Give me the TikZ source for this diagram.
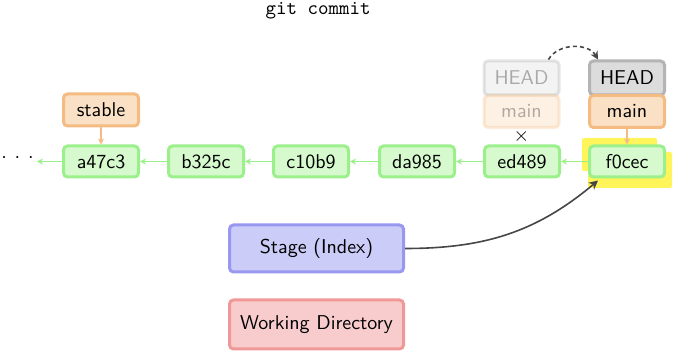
\documentclass[tikz,border=0pt]{standalone}
\usetikzlibrary{arrows.meta}
\definecolor{cgfill}{RGB}{214,250,206}
\definecolor{cgline}{RGB}{155,240,140}
\definecolor{obfill}{RGB}{250,224,196}
\definecolor{obline}{RGB}{244,188,130}
\definecolor{hdfill}{RGB}{220,220,220}
\definecolor{hdline}{RGB}{180,180,180}
\definecolor{stfill}{RGB}{204,204,248}
\definecolor{stline}{RGB}{152,152,240}
\definecolor{wdfill}{RGB}{248,204,204}
\definecolor{wdline}{RGB}{240,152,152}
\definecolor{hilite}{RGB}{255,245,90}
\definecolor{darkarr}{RGB}{70,70,70}
\begin{document}
\begin{tikzpicture}[x=0.5pt,y=-0.5pt,
  every node/.style={font=\sffamily\fontsize{10}{12}\selectfont},
  box/.style={rectangle, rounded corners=2pt, line width=1.5pt, inner sep=0pt},
  commit/.style={box, draw=cgline, fill=cgfill, minimum width=37.5pt, minimum height=15.5pt},
  branch/.style={box, draw=obline, fill=obfill, minimum width=37.5pt, minimum height=16pt},
  headbox/.style={box, draw=hdline, fill=hdfill, minimum width=37.5pt, minimum height=17pt},
  ghost/.style={draw opacity=0.35, fill opacity=0.35, text opacity=0.3},
  area/.style={box, minimum width=87pt, minimum height=23.5pt},
  garrow/.style={draw=cgline, line width=0.8pt, -{Stealth[length=3pt,width=3pt]}},
  oarrow/.style={draw=obline, line width=0.8pt, -{Stealth[length=3pt,width=3pt]}}
]
\useasboundingbox (0,0) rectangle (674,351);
% highlight
\fill[hilite, rounded corners=1pt] (582,138) rectangle (657,171);
\fill[hilite, rounded corners=1pt] (588,152) rectangle (672,188);

\node[font=\ttfamily\fontsize{10}{12}\selectfont] (title) at (318,11) {git commit};

\node[commit] (a47c3) at (101,161.5) {a47c3};
\node[commit] (b325c) at (206,161.5) {b325c};
\node[commit] (c10b9) at (311,161.5) {c10b9};
\node[commit] (da985) at (417,161.5) {da985};
\node[commit] (ed489) at (522,161.5) {ed489};
\node[commit] (f0cec) at (627,161.5) {f0cec};

\node[inner sep=0pt] (dots) at (17.5,158.5) {$\cdot\,\cdot\,\cdot$};
\coordinate (dotsend) at (37,161.5);

\node[branch] (stable) at (101,110) {stable};

\node[headbox, ghost] (headg) at (521.5,78) {HEAD};
\node[branch, ghost, draw opacity=0.3, fill opacity=0.45] (maing) at (521.5,111.5) {main};
\node[headbox] (head) at (627,78) {HEAD};
\node[branch] (main) at (627,111.5) {main};

\node[font=\fontsize{10}{11}\selectfont] (cross) at (521.5,136.5) {$\times$};

\node[area, draw=stline, fill=stfill] (stage) at (316.5,248.5) {Stage (Index)};
\node[area, draw=wdline, fill=wdfill, minimum height=24.5pt] (wd) at (316.5,324.5) {Working Directory};

\draw[garrow] (b325c) -- (a47c3);
\draw[garrow] (c10b9) -- (b325c);
\draw[garrow] (da985) -- (c10b9);
\draw[garrow] (ed489) -- (da985);
\draw[garrow] (f0cec) -- (ed489);
\draw[garrow] (a47c3) -- (dotsend);

\draw[oarrow] (stable) -- (a47c3);
\draw[oarrow] (main) -- (f0cec);

\draw[darkarr, line width=0.8pt, dashed, dash pattern=on 2pt off 1.6pt, -{Stealth[length=4pt,width=4pt]}]
  ([xshift=-6pt]headg.north east) to[out=60,in=120] ([xshift=5pt]head.north west);

\draw[darkarr, line width=0.8pt, -{Stealth[length=4.5pt,width=4.5pt]}]
  (stage.east) to[out=0,in=-140] ([xshift=5pt,yshift=-1pt]f0cec.south west);
\end{tikzpicture}
\end{document}
